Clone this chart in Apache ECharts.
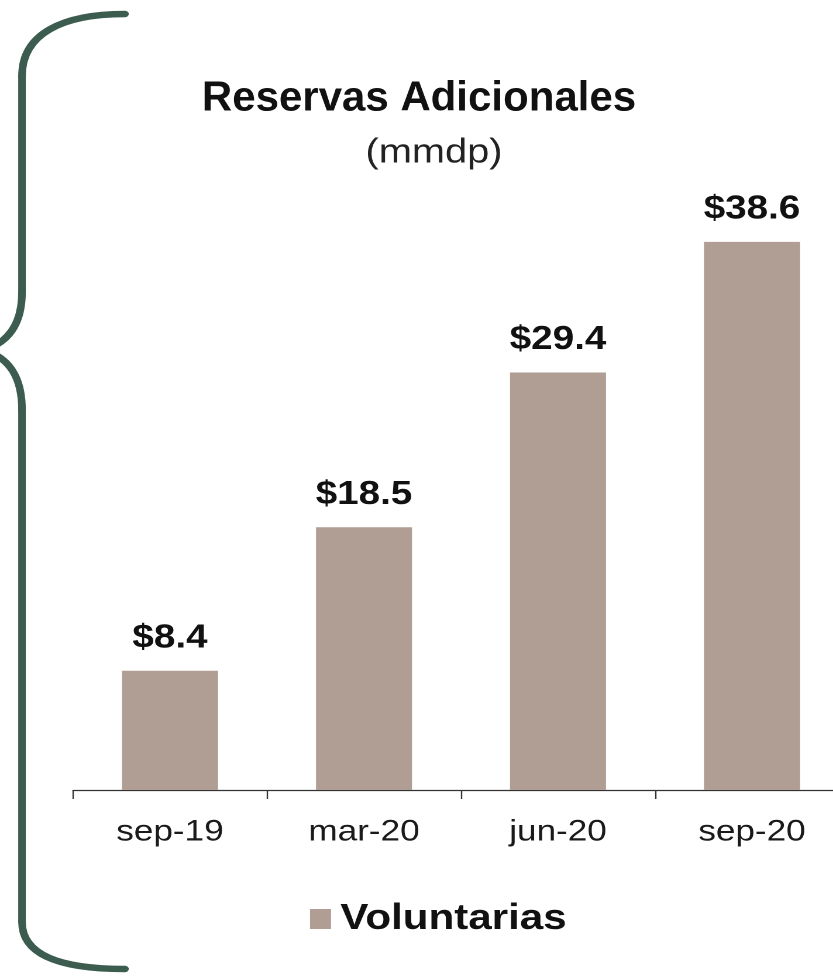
<!DOCTYPE html>
<html>
<head>
<meta charset="utf-8">
<script src="https://cdn.jsdelivr.net/npm/echarts@6/dist/echarts.min.js"></script>
<style>
  html, body { margin: 0; padding: 0; background: #ffffff; overflow: hidden; }
  #wrap { width: 833px; height: 980px; overflow: hidden; position: relative; }
  #chart { width: 740px; height: 980px; transform: scaleX(1.17); transform-origin: 0 0; }
</style>
</head>
<body>
<div id="wrap"><div id="chart"></div></div>
<script>
// ---- data ----
const categories = ['sep-19', 'mar-20', 'jun-20', 'sep-20'];
const values = [8.4, 18.5, 29.4, 38.6];
const seriesName = 'Voluntarias';
const titleText = 'Reservas Adicionales';
const subtitleText = '(mmdp)';

// ---- styling ----
const SX = 1.17; // horizontal stretch of the reference
const FONT = '"Liberation Sans", Arial, sans-serif';
const BAR = '#b09d94';
const BRACE = '#3d5c50';

function ux(x) { return x / SX; }

const braceStyle = { fill: null, stroke: BRACE, lineWidth: 6.5, lineCap: 'round' };
function bez(x1, y1, cx1, cy1, cx2, cy2, x2, y2) {
  return { type: 'bezierCurve', silent: true,
    shape: { x1: ux(x1), y1: y1, cpx1: ux(cx1), cpy1: cy1, cpx2: ux(cx2), cpy2: cy2, x2: ux(x2), y2: y2 },
    style: braceStyle };
}
function seg(x1, y1, x2, y2) {
  return { type: 'line', silent: true,
    shape: { x1: ux(x1), y1: y1, x2: ux(x2), y2: y2 }, style: braceStyle };
}

const chart = echarts.init(document.getElementById('chart'), null, { renderer: 'canvas', devicePixelRatio: 2 });
chart.setOption({
  backgroundColor: '#ffffff',
  animation: false,
  textStyle: { fontFamily: FONT },
  grid: { left: ux(73), width: ux(776), top: 222, bottom: 190, containLabel: false },
  xAxis: {
    type: 'category',
    data: categories,
    boundaryGap: true,
    axisLine: { show: true, lineStyle: { color: '#333333', width: 1.2 } },
    axisTick: { show: true, length: 9, alignWithLabel: false, lineStyle: { color: '#333333', width: 1.2 } },
    axisLabel: { fontSize: 30, color: '#1a1a1a', margin: 27, fontFamily: FONT }
  },
  yAxis: { type: 'value', min: 0, max: 40, show: false, splitLine: { show: false } },
  legend: {
    data: [seriesName],
    left: ux(310),
    top: 901,
    padding: 0,
    icon: 'rect',
    itemWidth: ux(21),
    itemHeight: 20,
    textStyle: { fontSize: 36, fontWeight: 'bold', color: '#111111', fontFamily: FONT, padding: [0, 0, 0, 3] }
  },
  series: [{
    name: seriesName,
    type: 'bar',
    data: values,
    barWidth: ux(96),
    itemStyle: { color: BAR },
    label: {
      show: true,
      position: 'top',
      distance: 16,
      fontSize: 33,
      fontWeight: 'bold',
      color: '#111111',
      fontFamily: FONT,
      formatter: function (p) { return '$' + p.value.toFixed(1); }
    }
  }],
  graphic: [
    bez(125, 14, 62, 14, 22, 34, 22, 76),
    seg(22, 76, 22, 292),
    bez(22, 292, 22, 322, 10, 342, -16, 350),
    bez(-16, 350, 10, 358, 22, 378, 22, 410),
    seg(22, 410, 22, 922),
    bez(22, 922, 22, 956, 62, 969, 125, 969),
    {
      type: 'text',
      x: ux(419),
      y: 99,
      scaleX: 1 / SX,
      style: {
        text: titleText,
        fontSize: 42,
        fontWeight: 'bold',
        fontFamily: FONT,
        fill: '#111111',
        textAlign: 'center',
        textVerticalAlign: 'middle'
      }
    },
    {
      type: 'text',
      x: ux(434),
      y: 153,
      style: {
        text: subtitleText,
        fontSize: 34,
        fontFamily: FONT,
        fill: '#222222',
        textAlign: 'center',
        textVerticalAlign: 'middle'
      }
    }
  ]
});
</script>
</body>
</html>
